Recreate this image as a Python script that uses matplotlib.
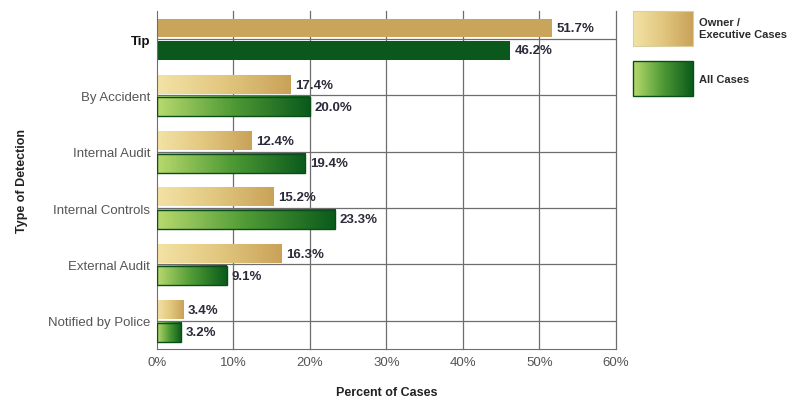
import numpy as np
import matplotlib
matplotlib.use("Agg")
import matplotlib.pyplot as plt
from matplotlib.colors import LinearSegmentedColormap

plt.rcParams['font.family'] = ['Liberation Sans Narrow', 'Liberation Sans', 'DejaVu Sans']

# data
categories = ["Tip", "By Accident", "Internal Audit", "Internal Controls",
              "External Audit", "Notified by Police"]
owner_exec = [51.7, 17.4, 12.4, 15.2, 16.3, 3.4]
all_cases = [46.2, 20.0, 19.4, 23.3, 9.1, 3.2]
xticks = [0, 10, 20, 30, 40, 50, 60]
series_names = ["Owner /\nExecutive Cases", "All Cases"]

tan_cmap = LinearSegmentedColormap.from_list("tan", ["#f3e3a6", "#e2c77f", "#c9a258"])
green_cmap = LinearSegmentedColormap.from_list("grn", ["#b8da6e", "#4f9a35", "#0a5a1c"])
grad = np.linspace(0, 1, 256).reshape(1, -1)

fig = plt.figure(figsize=(7.94, 4.02), dpi=100)
ax = fig.add_axes([0.1977, 0.1294, 0.578, 0.8408])

ax.set_xlim(0, 60)
ax.set_ylim(len(categories) - 0.5, -0.5)

# grid
for x in xticks[1:]:
    ax.axvline(x, color="#6e6e6e", lw=0.9, zorder=1, clip_on=False)
for i in range(len(categories)):
    ax.axhline(i, color="#6e6e6e", lw=0.9, zorder=1)

for i, (o, a) in enumerate(zip(owner_exec, all_cases)):
    y_o = (i - 0.36, i - 0.03)
    y_a = (i + 0.03, i + 0.37)
    if i == 0:
        ax.barh(i - 0.195, o, height=0.33, color="#c9a55c", zorder=2)
        ax.barh(i + 0.2, a, height=0.34, color="#0b581c", zorder=2)
    else:
        ax.imshow(grad, cmap=tan_cmap, aspect="auto", extent=(0, o, y_o[1], y_o[0]),
                  zorder=2, interpolation="bilinear")
        ax.imshow(grad, cmap=green_cmap, aspect="auto", extent=(0, a, y_a[1], y_a[0]),
                  zorder=2, interpolation="bilinear")
        ax.barh(i + 0.2, a, height=0.34, facecolor="none", edgecolor="#0b4d18",
                lw=1.0, zorder=3)
    ax.text(o + 0.6, i - 0.19, f"{o:.1f}%", va="center", ha="left",
            fontsize=9.5, fontweight="bold", color="#2b2b3a", zorder=4)
    ax.text(a + 0.6, i + 0.2, f"{a:.1f}%", va="center", ha="left",
            fontsize=9.5, fontweight="bold", color="#2b2b3a", zorder=4)

ax.set_xlim(0, 60)
ax.set_ylim(len(categories) - 0.5, -0.5)

ax.set_xticks(xticks)
ax.set_xticklabels([f"{x}%" for x in xticks], fontsize=9.5, color="#555555")
ax.set_yticks(range(len(categories)))
ax.set_yticklabels(categories, fontsize=9.5, color="#555555")
ax.get_yticklabels()[0].set_fontweight("bold")
ax.get_yticklabels()[0].set_color("#111111")
ax.tick_params(length=0, pad=5)

for s in ["top", "right"]:
    ax.spines[s].set_visible(False)
ax.spines["left"].set_color("#6e6e6e")
ax.spines["bottom"].set_color("#6e6e6e")

ax.set_xlabel("Percent of Cases", fontsize=9, fontweight="bold", color="#222222", labelpad=13)
ax.set_ylabel("Type of Detection", fontsize=9, fontweight="bold", color="#222222", labelpad=14)

# legend
lax = fig.add_axes([0, 0, 1, 1])
lax.set_xlim(0, 794)
lax.set_ylim(402, 0)
lax.axis("off")
lax.imshow(grad, cmap=tan_cmap, aspect="auto", extent=(633, 693, 47, 12), interpolation="bilinear")
lax.imshow(grad, cmap=green_cmap, aspect="auto", extent=(633, 693, 97, 62), interpolation="bilinear")
lax.add_patch(plt.Rectangle((633, 62), 60, 35, fill=False, ec="#0b4d18", lw=1.0))
lax.add_patch(plt.Rectangle((633, 12), 60, 35, fill=False, ec="#d8cfa0", lw=0.8))
lax.text(699, 29, series_names[0], fontsize=8, fontweight="bold", color="#2b2b2b",
         va="center", ha="left", linespacing=1.2)
lax.text(699, 80, series_names[1], fontsize=8, fontweight="bold", color="#2b2b2b",
         va="center", ha="left")
lax.set_xlim(0, 794)
lax.set_ylim(402, 0)

fig.savefig("out.png", dpi=100)
